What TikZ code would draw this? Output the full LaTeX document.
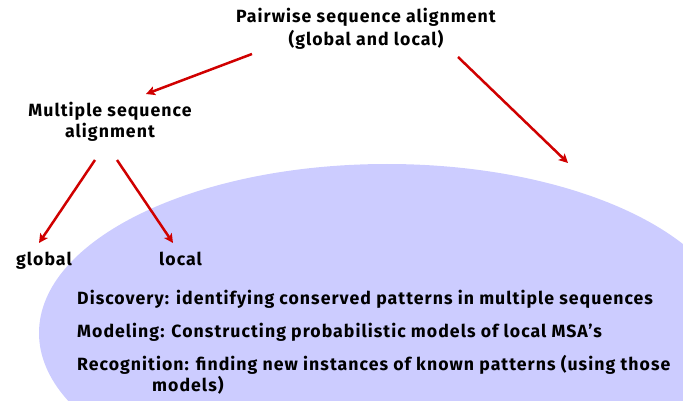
\documentclass[tikz,border=0pt]{standalone}
\usepackage{fontspec}
\setmainfont{Fira Sans}[LetterSpace=5.8]
\usetikzlibrary{arrows.meta}
\definecolor{lav}{HTML}{CCCCFF}
\definecolor{arrred}{HTML}{D00000}
\begin{document}
\begin{tikzpicture}[x=1pt,y=-1pt,
  lbl/.style={inner sep=0pt, text=black, font=\bfseries\fontsize{17.7}{20}\selectfont},
  arr/.style={draw=arrred, line width=2.5pt, -{Stealth[length=9pt,width=9pt,inset=2pt]}}]
\useasboundingbox (0,0) rectangle (683,401);
\clip (0,0) rectangle (683,401);
\fill[lav] (387,333) ellipse [x radius=348pt, y radius=169pt];
% labels
\node[lbl, anchor=base] (title1) at (366,23) {Pairwise sequence alignment};
\node[lbl, anchor=base] (title2) at (366,46) {(global and local)};
\node[lbl, anchor=base] (msa1) at (110,117) {Multiple sequence};
\node[lbl, anchor=base] (msa2) at (110,138) {alignment};
\node[lbl, anchor=base west] (global) at (16,265) {global};
\node[lbl, anchor=base west] (local) at (159,265) {local};
\node[lbl, anchor=base west] (disc) at (77,304) {Discovery: identifying conserved patterns in multiple sequences};
\node[lbl, anchor=base west] (model) at (77,337) {Modeling: Constructing probabilistic models of local MSA's};
\node[lbl, anchor=base west] (recog) at (77,370) {Recognition: finding new instances of known patterns (using those};
\node[lbl, anchor=base west] (recog2) at (152,391) {models)};
% arrow endpoints
\coordinate (a1s) at (252,54);
\coordinate (a1e) at (146,94);
\coordinate (a2s) at (458,57);
\coordinate (a2e) at (568,163);
\coordinate (a3s) at (95,160);
\coordinate (a3e) at (39,243);
\coordinate (a4s) at (117,160);
\coordinate (a4e) at (173,243);
\draw[arr] (a1s) -- (a1e);
\draw[arr] (a2s) -- (a2e);
\draw[arr] (a3s) -- (a3e);
\draw[arr] (a4s) -- (a4e);
\end{tikzpicture}
\end{document}
